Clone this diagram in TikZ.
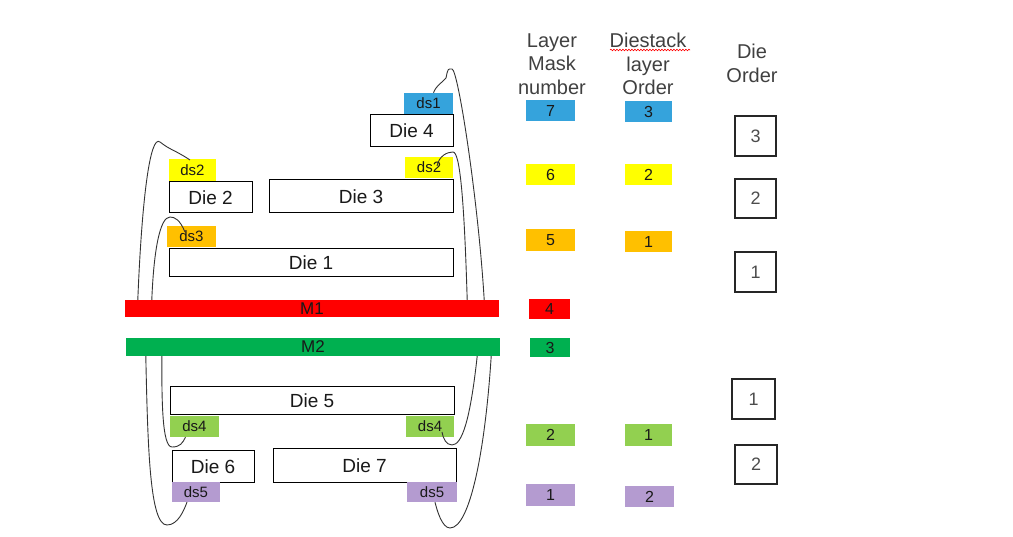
\documentclass[tikz,border=0pt]{standalone}
\usepackage{fontspec}
\setmainfont{Liberation Sans}
\usetikzlibrary{decorations.pathmorphing}
\definecolor{cblue}{HTML}{35A3DC}
\definecolor{cyel}{HTML}{FFFF00}
\definecolor{corange}{HTML}{FFC000}
\definecolor{cred}{HTML}{FF0000}
\definecolor{cgreen}{HTML}{00B050}
\definecolor{clgreen}{HTML}{92D050}
\definecolor{cpurple}{HTML}{B49BD0}
\begin{document}
\begin{tikzpicture}[x=1pt,y=-1pt,
  die/.style={draw=black, line width=1pt, fill=white, inner sep=0pt, font=\fontsize{19}{19}\selectfont, text=black!90},
  tag/.style={inner sep=0pt, font=\fontsize{15}{15}\selectfont, text=black!90},
  bar/.style={inner sep=0pt, font=\fontsize{17}{17}\selectfont, text=black!90},
  num/.style={inner sep=0pt, font=\fontsize{16}{16}\selectfont, text=black!90},
  ord/.style={draw=black!85, line width=1.3pt, inner sep=0pt, font=\fontsize{18}{18}\selectfont, text=black!70},
  hdr/.style={align=center, inner sep=0pt, font=\fontsize{20}{23.5}\selectfont, text=black!75},
  wire/.style={draw=black!80, line width=0.9pt}]
\useasboundingbox (0,0) rectangle (1013,537);
% ---- upper dies
\node[tag, fill=cblue, minimum width=49, minimum height=21] (ds1) at (428.5,103.5) {ds1};
\node[die, minimum width=83, minimum height=32] (die4) at (411.5,131) {Die 4};
\node[tag, fill=cyel, minimum width=47, minimum height=22] (ds2L) at (192.5,170) {ds2};
\node[tag, fill=cyel, minimum width=48, minimum height=21] (ds2R) at (429,167.5) {ds2};
\node[die, minimum width=83, minimum height=31] (die2) at (210.5,197.5) {Die 2};
\node[die, minimum width=184, minimum height=33] (die3) at (361,196.5) {Die 3};
\node[tag, fill=corange, minimum width=49, minimum height=21] (ds3) at (191.5,236.5) {ds3};
\node[die, minimum width=284, minimum height=28] (die1) at (311,263) {Die 1};
% ---- metal bars
\node[bar, fill=cred, minimum width=374, minimum height=17] (M1) at (312,308.5) {M1};
\node[bar, fill=cgreen, minimum width=374, minimum height=18] (M2) at (313,347) {M2};
% ---- lower dies
\node[die, minimum width=284, minimum height=28] (die5) at (312,401) {Die 5};
\node[tag, fill=clgreen, minimum width=49, minimum height=21] (ds4L) at (194.5,426.5) {ds4};
\node[tag, fill=clgreen, minimum width=48, minimum height=21] (ds4R) at (430,426.5) {ds4};
\node[die, minimum width=82, minimum height=31] (die6) at (213,466.5) {Die 6};
\node[die, minimum width=183, minimum height=33] (die7) at (364.5,465.5) {Die 7};
\node[tag, fill=cpurple, minimum width=48, minimum height=20] (ds5L) at (196,492) {ds5};
\node[tag, fill=cpurple, minimum width=50, minimum height=20] (ds5R) at (432,492) {ds5};
% ---- bond wires (upper)
\draw[wire] ([xshift=5pt]ds1.north) .. controls +(3,-8) and +(-4,5) .. (446,78)
  .. controls +(2,-10) and +(-4,0) .. (452,69)
  .. controls +(6,0) and +(-6,-100) .. ([xshift=-15pt]M1.north east);
\draw[wire] ([xshift=8pt,yshift=1.5pt]ds2R.center) .. controls +(2,-10) and +(-6,0) .. (453,152)
  .. controls +(7,0) and +(-3,-100) .. ([xshift=-32pt]M1.north east);
\draw[wire] ([xshift=-2.5pt,yshift=10pt]ds2L.center) .. controls +(-15,-10) and +(10,8) .. (160,142)
  .. controls +(-10,-8) and +(4,-100) .. ([xshift=13pt]M1.north west);
\draw[wire] ([xshift=-6.5pt,yshift=4.5pt]ds3.center) .. controls +(-5,-12) and +(5,0) .. (170,217)
  .. controls +(-10,0) and +(2,-50) .. ([xshift=27pt]M1.north west);
% ---- bond wires (lower)
\draw[wire] ([xshift=36pt]M2.south west) .. controls +(0,44) and +(-10,0) .. (172,447)
  .. controls +(8,0) and +(-3,6) .. ([xshift=-9pt]ds4L.south);
\draw[wire] ([xshift=20pt]M2.south west) .. controls +(2,94) and +(-17,0) .. (167,525)
  .. controls +(11,0) and +(-3,8) .. ([xshift=-9pt]ds5L.south);
\draw[wire] ([xshift=-23pt]M2.south east) .. controls +(-7,64) and +(10,0) .. (452,445)
  .. controls +(-6,0) and +(1,6) .. ([xshift=12pt,yshift=-5.5pt]ds4R.center);
\draw[wire] ([xshift=-9pt]M2.south east) .. controls +(-6,94) and +(20,0) .. (450,528)
  .. controls +(-8,0) and +(2,8) .. ([xshift=3pt]ds5R.south);
% ---- headers
\node[hdr] (h1) at (552,64) {Layer\\Mask\\number};
\node[hdr] (h2) at (648,64) {Diestack\\layer\\Order};
\node[hdr] (h3) at (752,63.5) {Die\\Order};
\draw[red, line width=0.6pt, decorate, decoration={snake, amplitude=0.8pt, segment length=3pt}] (610,50) -- (690,50);
% ---- layer mask numbers
\node[num, fill=cblue, minimum width=49, minimum height=21] (L7) at (550.5,110.5) {7};
\node[num, fill=cyel, minimum width=49, minimum height=21] (L6) at (550.5,174.5) {6};
\node[num, fill=corange, minimum width=49, minimum height=22] (L5) at (550.5,240) {5};
\node[num, fill=cred, minimum width=41, minimum height=20] (L4) at (549.5,309) {4};
\node[num, fill=cgreen, minimum width=40, minimum height=19] (L3) at (550,347.5) {3};
\node[num, fill=clgreen, minimum width=49, minimum height=22] (L2) at (550.5,435) {2};
\node[num, fill=cpurple, minimum width=49, minimum height=22] (L1) at (550.5,495) {1};
% ---- diestack layer order
\node[num, fill=cblue, minimum width=47, minimum height=21] (D3) at (648.5,111.5) {3};
\node[num, fill=cyel, minimum width=47, minimum height=21] (D2) at (648.5,174.5) {2};
\node[num, fill=corange, minimum width=47, minimum height=21] (D1) at (648.5,241.5) {1};
\node[num, fill=clgreen, minimum width=47, minimum height=22] (D1b) at (648.5,435) {1};
\node[num, fill=cpurple, minimum width=49, minimum height=21] (D2b) at (649.5,496.5) {2};
% ---- die order
\node[ord, minimum width=41, minimum height=40] (O3) at (755.5,136) {3};
\node[ord, minimum width=41, minimum height=39] (O2) at (755.5,198.5) {2};
\node[ord, minimum width=41, minimum height=40] (O1) at (755.5,272) {1};
\node[ord, minimum width=43, minimum height=40] (O1b) at (753.5,399) {1};
\node[ord, minimum width=42, minimum height=39] (O2b) at (756,464.5) {2};
\end{tikzpicture}
\end{document}
